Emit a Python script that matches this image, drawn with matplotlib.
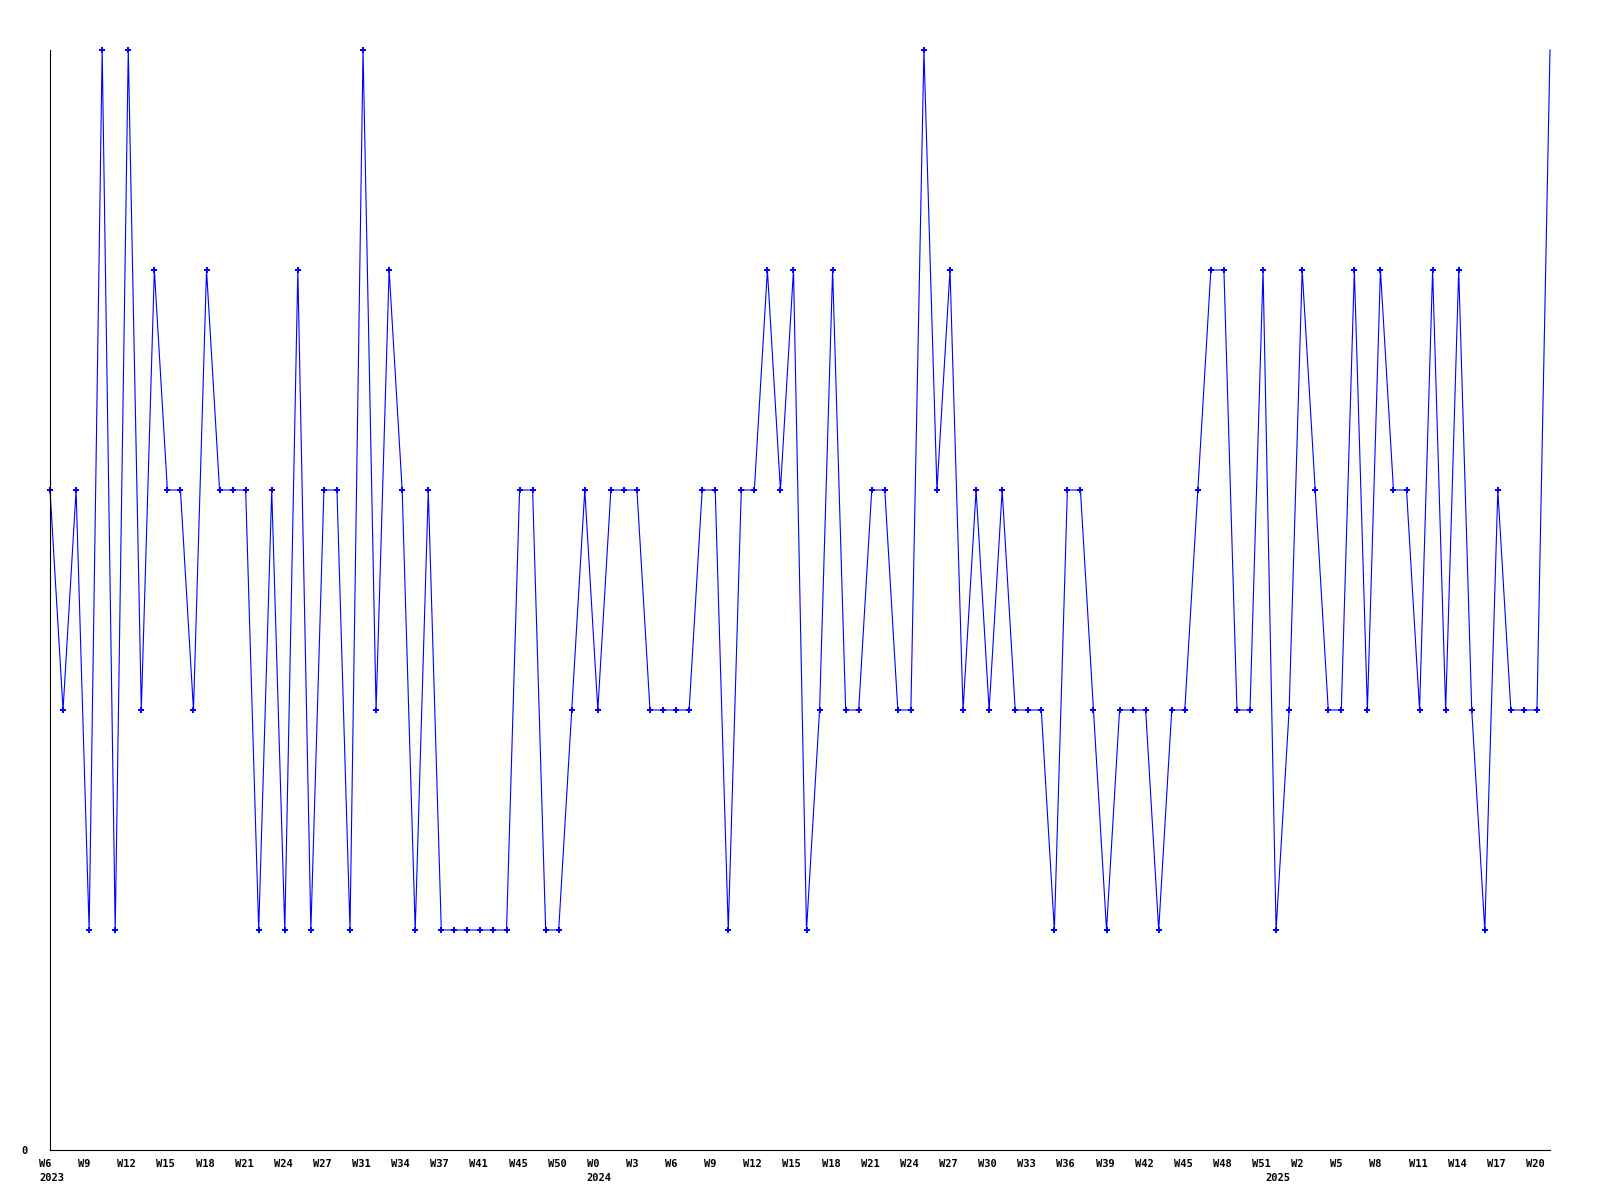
import matplotlib
matplotlib.use("Agg")
import matplotlib.pyplot as plt
import matplotlib.transforms as mtransforms

# weekly values, one per data point (x positions are the point index)
values = [3, 2, 3, 1, 5, 1, 5, 2, 4, 3,
          3, 2, 4, 3, 3, 3, 1, 3, 1, 4,
          1, 3, 3, 1, 5, 2, 4, 3, 1, 3,
          1, 1, 1, 1, 1, 1, 3, 3, 1, 1,
          2, 3, 2, 3, 3, 3, 2, 2, 2, 2,
          3, 3, 1, 3, 3, 4, 3, 4, 1, 2,
          4, 2, 2, 3, 3, 2, 2, 5, 3, 4,
          2, 3, 2, 3, 2, 2, 2, 1, 3, 3,
          2, 1, 2, 2, 2, 1, 2, 2, 3, 4,
          4, 2, 2, 4, 1, 2, 4, 3, 2, 2,
          4, 2, 4, 3, 3, 2, 4, 2, 4, 2,
          1, 3, 2, 2, 2, 5]

# label shown every third point
week_labels = ["W6", "W9", "W12", "W15", "W18", "W21", "W24", "W27", "W31", "W34",
               "W37", "W41", "W45", "W50", "W0", "W3", "W6", "W9", "W12", "W15",
               "W18", "W21", "W24", "W27", "W30", "W33", "W36", "W39", "W42", "W45",
               "W48", "W51", "W2", "W5", "W8", "W11", "W14", "W17", "W20"]
years = ["2023", "2024", "2025"]
year_idx = [0, 42, 94]

x = list(range(len(values)))

fig = plt.figure(figsize=(16, 12), dpi=100)
ax = fig.add_axes([50 / 1600, 50 / 1200, 1500 / 1600, 1100 / 1200])

ax.plot(x, values, color="#0000ff", lw=0.8, clip_on=False,
        marker="P", markersize=4.5, markeredgewidth=0,
        markevery=list(range(len(values) - 1)))

ax.set_xlim(0, len(values) - 1)
ax.set_ylim(0, 5)
for s in ["top", "right"]:
    ax.spines[s].set_visible(False)
for s in ["left", "bottom"]:
    ax.spines[s].set_color("black")
    ax.spines[s].set_linewidth(0.8)

font = dict(family="DejaVu Sans Mono", fontweight="bold", fontsize=7.5)

ax.set_xticks([])
ax.set_yticks([0])
ax.set_yticklabels(["0"], **font)
ax.tick_params(axis="y", length=0, pad=16)

base = mtransforms.blended_transform_factory(ax.transData, ax.transAxes)
wk_tr = base + mtransforms.ScaledTranslation(-11 / 100, -9 / 100, fig.dpi_scale_trans)
yr_tr = base + mtransforms.ScaledTranslation(-11 / 100, -23 / 100, fig.dpi_scale_trans)

for i, lab in enumerate(week_labels):
    ax.text(i * 3, 0, lab, transform=wk_tr, ha="left", va="top", **font)
for yr, xi in zip(years, year_idx):
    ax.text(xi, 0, yr, transform=yr_tr, ha="left", va="top", **font)

fig.savefig("out.png", dpi=100)
